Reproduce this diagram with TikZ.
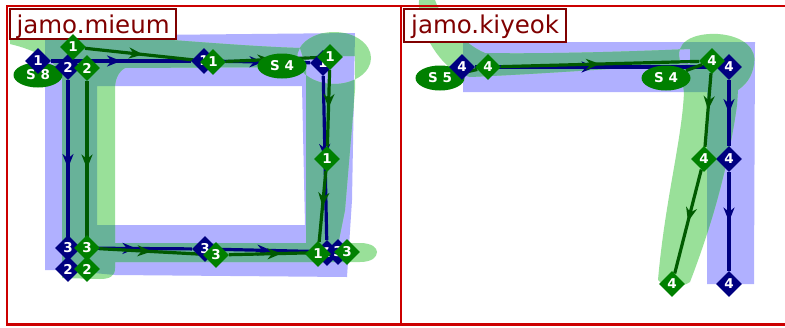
\documentclass[tikz,border=0pt]{standalone}
\usepackage{fontspec}
\usetikzlibrary{shapes.geometric,arrows.meta,decorations.markings}
\newfontfamily\titlefont{DejaVu Sans}
\newfontfamily\lblfont{DejaVu Sans}
\definecolor{framered}{RGB}{204,0,0}
\definecolor{titlered}{RGB}{128,0,0}
\definecolor{navyc}{RGB}{0,0,128}
\definecolor{greenc}{RGB}{0,128,0}
\definecolor{dkgreen}{RGB}{0,90,0}
\definecolor{bandblue}{RGB}{176,176,255}
\definecolor{bandgreen}{RGB}{153,224,153}
\definecolor{bandteal}{RGB}{104,178,153}
\pgfdeclarelayer{bands}
\pgfdeclarelayer{lines}
\pgfsetlayers{bands,lines,main}
\tikzset{
  navyd/.style={diamond, fill=navyc, text=white, minimum width=26pt, minimum height=26pt, inner sep=0pt,
    font=\lblfont\bfseries\fontsize{13.5}{15}\selectfont},
  greend/.style={navyd, fill=greenc},
  sell/.style={ellipse, fill=greenc, text=white, minimum width=49pt, minimum height=25pt, inner sep=0pt,
    font=\lblfont\bfseries\fontsize{13.5}{15}\selectfont},
  midarrow/.style={postaction={decorate}, decoration={markings,
    mark=at position 0.5 with {\arrow{Stealth[length=14pt,width=11pt,inset=4.5pt]}}}},
  navyline/.style={draw=navyc, line width=3.2pt, midarrow},
  greenline/.style={draw=dkgreen, line width=3.2pt, midarrow},
  plaingreen/.style={draw=dkgreen, line width=3.2pt},
  frameline/.style={draw=framered, line width=2.2pt},
  titlebox/.style={draw=titlered, line width=2.2pt, fill=white, text=titlered, inner sep=0pt,
    font=\titlefont\fontsize{24.5}{28}\selectfont, anchor=north west, text height=21pt}
}
\def\leftblue{(45,36) -- (355,33) -- (352,200) -- (347,277) -- (115,275) -- (62,270) -- (45,270) -- cycle
  (97,86) -- (302,86) -- (305,225) -- (97,225) -- cycle}
\def\leftgreen{(10,36) -- (125,37) .. controls (180,40) and (240,46) .. (300,48) -- (306,67) -- (125,68)
  .. controls (118,72) and (115,80) .. (115,88) -- (115,268) .. controls (115,276) and (110,279) .. (100,279)
  -- (62,278) -- (62,75) .. controls (55,60) and (35,50) .. (10,44) -- cycle
  (334,58) ellipse [x radius=37pt, y radius=26pt]
  (306,56) -- (355,56) -- (355,90) -- (345,210) -- (338,245) -- (306,245) -- cycle
  (62,243) -- (360,243) .. controls (372,243) and (377,248) .. (377,252) .. controls (377,257) and (372,262) .. (360,262) -- (62,262) -- cycle}
\def\rightblue{(463,42) -- (755,42) -- (754,284) -- (707,284) -- (707,92) -- (463,92) -- cycle}
\def\rightgreen{(419,0) .. controls (418,25) and (432,55) .. (455,72) -- (470,77)
  .. controls (540,74) and (620,68) .. (690,64) -- (690,49) .. controls (620,52) and (540,54) .. (485,53)
  .. controls (465,45) and (442,20) .. (435,0) -- cycle
  (658,280) .. controls (665,200) and (682,140) .. (684,92) -- (679,55) .. controls (679,38) and (700,33) .. (718,34)
  .. controls (745,36) and (757,50) .. (754,64) .. controls (752,78) and (745,85) .. (738,90) -- (737,105)
  .. controls (728,170) and (710,230) .. (690,282) .. controls (682,288) and (664,288) .. (658,280) -- cycle}
\begin{document}
\begin{tikzpicture}[x=1pt,y=-1pt]
\useasboundingbox (0,0) rectangle (785,327);

% bands
\begin{pgfonlayer}{bands}
  \fill[white] (0,0) rectangle (785,327);
  \fill[bandblue, even odd rule] \leftblue;
  \fill[bandgreen] \leftgreen;
  \begin{scope}[even odd rule]
    \clip \leftblue;
    \fill[bandteal, nonzero rule] \leftgreen;
  \end{scope}
  \fill[bandblue] \rightblue;
  \fill[bandgreen] \rightgreen;
  \begin{scope}
    \clip \rightblue;
    \fill[bandteal] \rightgreen;
  \end{scope}
\end{pgfonlayer}

% frame and titles
\draw[frameline] (7,6) rectangle (401,324.5);
\draw[frameline] (401,6) -- (786,6);
\draw[frameline] (401,324.5) -- (786,324.5);
\node[titlebox, minimum width=166pt, minimum height=30pt, text depth=3pt] (t1) at (9,8) {jamo.mieum};
\node[titlebox, minimum width=162pt, minimum height=33pt, text depth=6pt] (t2) at (403,8) {jamo.kiyeok};

% ellipses
\node[sell] (S8) at (38,75) {S 8};
\node[sell] (S4l) at (282,66) {S 4};
\node[sell] (S5) at (440,78) {S 5};
\node[sell] (S4r) at (666,78) {S 4};

% navy diamonds (left)
\node[navyd] (N1a) at (38,61) {1};
\node[navyd] (N1b) at (204,61) {1};
\node[navyd] (N1c) at (323,63) {1};
\node[navyd] (N1d) at (327,253) {1};
\node[navyd] (N2a) at (68,67) {2};
\node[navyd] (N2b) at (68,269) {2};
\node[navyd] (N3a) at (68,248) {3};
\node[navyd] (N3b) at (205,249) {3};
\node[navyd] (N3c) at (338,252) {3};
% navy diamonds (right)
\node[navyd] (N4a) at (462,67) {4};
\node[navyd] (N4b) at (729,67) {4};
\node[navyd] (N4c) at (729,159) {4};
\node[navyd] (N4d) at (729,284) {4};

% green diamonds (left)
\node[greend] (G1a) at (73,47) {1};
\node[greend] (G1b) at (213,62) {1};
\node[greend] (G1c) at (330,57) {1};
\node[greend] (G1d) at (327,159) {1};
\node[greend] (G1e) at (318,254) {1};
\node[greend] (G2a) at (87,68) {2};
\node[greend] (G2b) at (87,269) {2};
\node[greend] (G3a) at (87,248) {3};
\node[greend] (G3b) at (216,255) {3};
\node[greend] (G3c) at (347,252) {3};
% green diamonds (right)
\node[greend] (G4a) at (488,67) {4};
\node[greend] (G4b) at (712,61) {4};
\node[greend] (G4c) at (704,159) {4};
\node[greend] (G4d) at (672,284) {4};

% connectors
\begin{pgfonlayer}{lines}
  \draw[navyline] (N1a) -- (N1b);
  \draw[navyline] (N1b) -- (N1c);
  \draw[navyline] (N1c) -- (N1d);
  \draw[navyline] (N2a) -- (N2b);
  \draw[navyline] (N3a) -- (N3b);
  \draw[navyline] (N3b) -- (N3c);
  \draw[navyline] (N4a) -- (N4b);
  \draw[navyline] (N4b) -- (N4c);
  \draw[navyline] (N4c) -- (N4d);
  \draw[greenline] (G1a) -- (G1b);
  \draw[greenline] (G1b) -- (G1c);
  \draw[greenline] (G1c) -- (G1d);
  \draw[greenline] (G1d) -- (G1e);
  \draw[greenline] (G2a) -- (G2b);
  \draw[greenline] (G3a) -- (G3b);
  \draw[greenline] (G3b) -- (G3c);
  \draw[greenline] (G4a) -- (G4b);
  \draw[greenline] (G4b) -- (G4c);
  \draw[greenline] (G4c) -- (G4d);
  \draw[plaingreen] (S5) -- (G4a);
  \draw[plaingreen] (S4r) -- (G4b);
\end{pgfonlayer}
\end{tikzpicture}
\end{document}
